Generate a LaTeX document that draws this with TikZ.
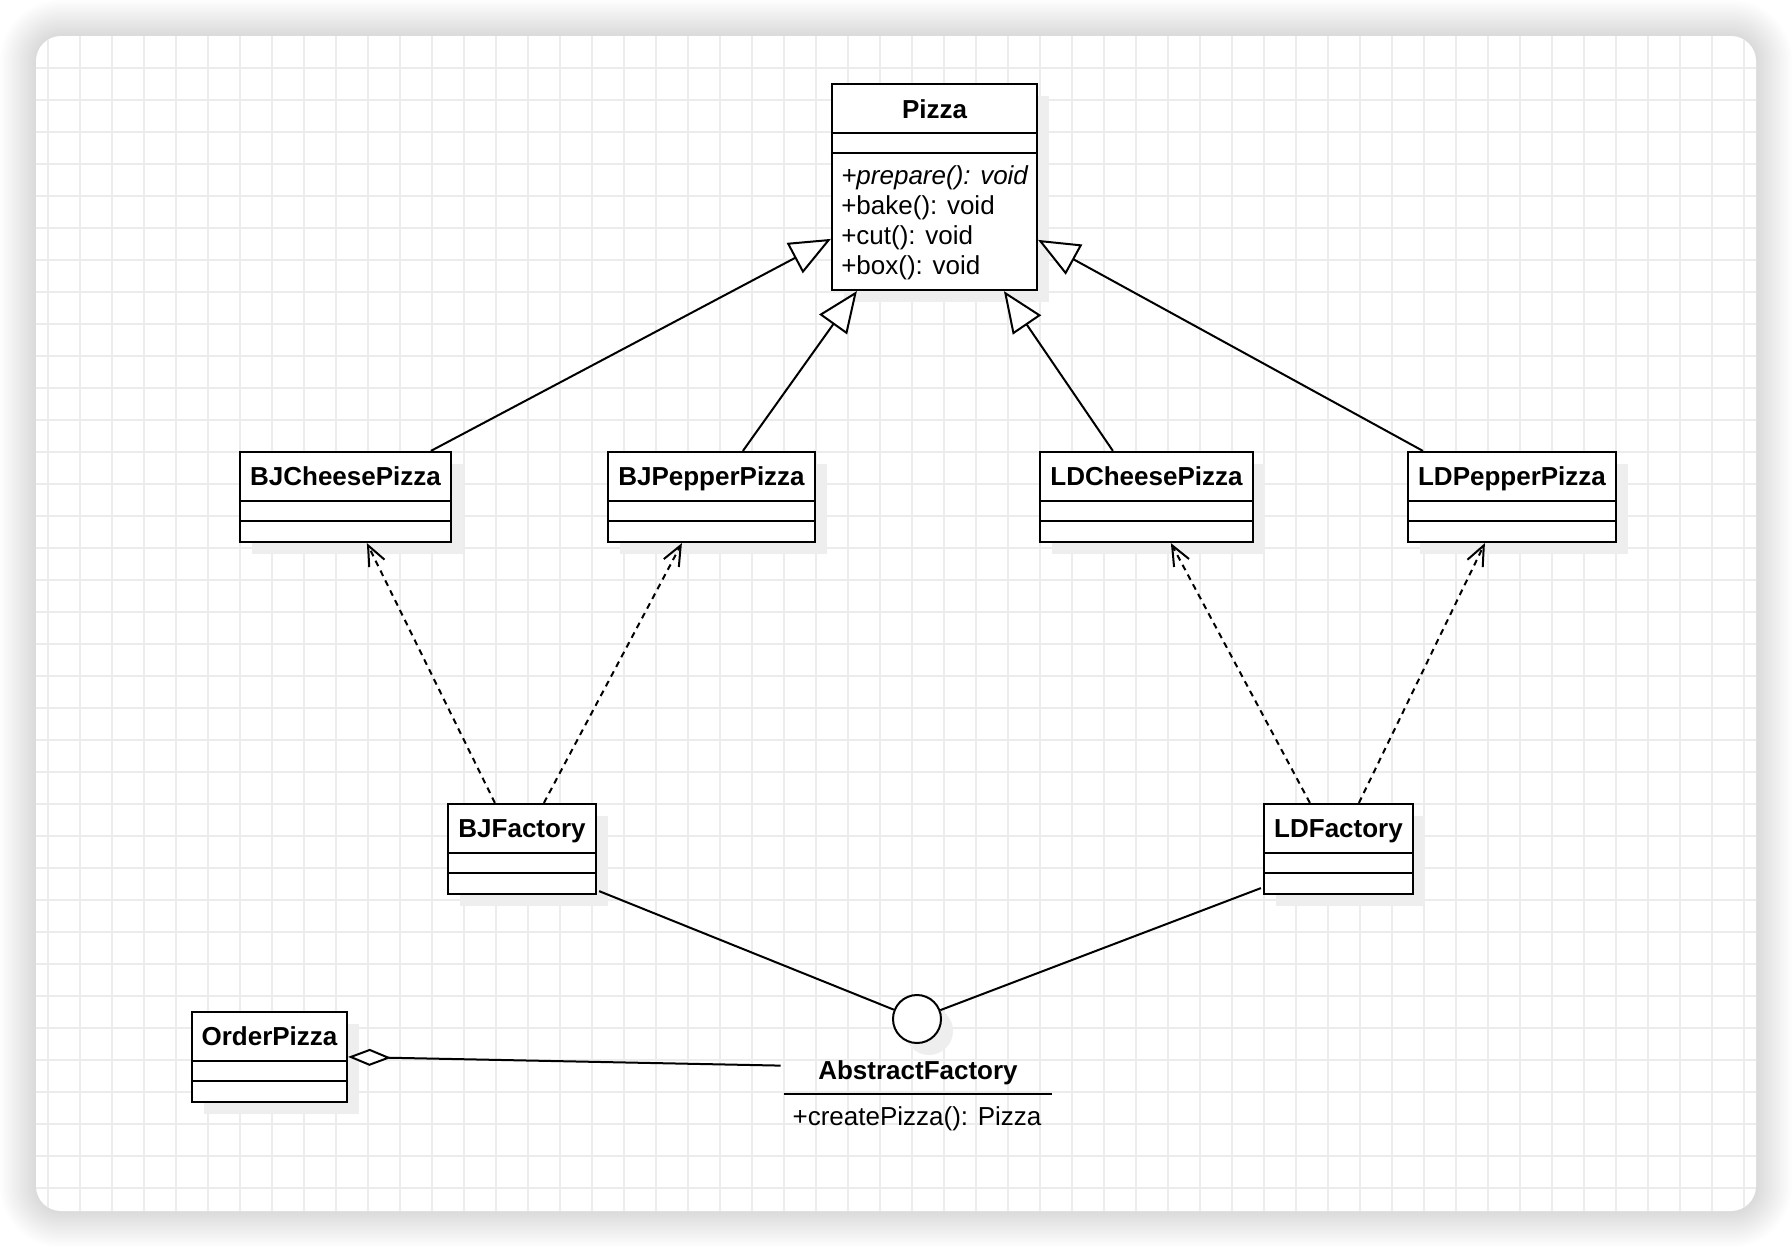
\documentclass[tikz,border=0pt]{standalone}
\usepackage{fontspec}
\setmainfont{Liberation Sans}
\usetikzlibrary{arrows.meta,shadows,fit,calc}
\definecolor{gridc}{RGB}{236,236,236}
\definecolor{shadc}{RGB}{238,238,238}
\newcommand{\umlcls}[6]{%
  \node[clsbox, fit={(#2,#3) (#4,#5)}] (#1) {};
  \draw[divider] ($(#1.north west)+(0,50)$) -- ($(#1.north east)+(0,50)$);
  \draw[divider] ($(#1.north west)+(0,70)$) -- ($(#1.north east)+(0,70)$);
  \node[clstitle] (#1-t) at ($(#1.north)+(0,25)$) {#6};
}
\begin{document}
\begin{tikzpicture}[x=0.5pt,y=-0.5pt,
  font=\fontsize{13pt}{15pt}\selectfont,
  clsbox/.style={draw=black,line width=1.1pt,fill=white,inner sep=0pt,
    drop shadow={shadow xshift=6pt,shadow yshift=-6pt,fill=shadc,opacity=1}},
  divider/.style={line width=1.1pt},
  clstitle/.style={font=\fontsize{13pt}{15pt}\selectfont\bfseries,inner sep=0pt,
    text height=9.6pt,text depth=0.3pt},
  meth/.style={inner sep=0pt,anchor=west,text height=9.6pt,text depth=2.8pt},
  gen/.style={line width=1pt,-{Triangle[length=20.5pt,width=17pt,fill=white]}},
  dep/.style={line width=1pt,dash pattern=on 3pt off 2.5pt,-{Straight Barb[length=10pt,width=8.5pt]}},
  assoc/.style={line width=1pt},
  agg/.style={line width=1pt,{Diamond[length=21.5pt,width=8.5pt,fill=white]}-},
  gridline/.style={draw=gridc,line width=0.8pt},
]
\useasboundingbox (0,0) rectangle (1792,1248);
% card shadow
\foreach \i in {1,...,18}{
  \pgfmathsetmacro\rr{12.5+\i}
  \fill[black,opacity=0.009,rounded corners=\rr pt] (36-2*\i,36-2*\i) rectangle (1756+2*\i,1211+2*\i);
}
\fill[white,rounded corners=12.5pt] (36,36) rectangle (1756,1211);
\begin{scope}
  \clip[rounded corners=12.5pt] (36,36) rectangle (1756,1211);
  \foreach \k in {0,...,53}{ \draw[gridline] (48+32*\k,36) -- (48+32*\k,1211); }
  \foreach \k in {0,...,35}{ \draw[gridline] (36,68+32*\k) -- (1756,68+32*\k); }
\end{scope}

% Pizza
\node[clsbox, fit={(832,84) (1037,290)}] (pz) {};
\draw[divider] ($(pz.north west)+(0,50)$) -- ($(pz.north east)+(0,50)$);
\draw[divider] ($(pz.north west)+(0,70)$) -- ($(pz.north east)+(0,70)$);
\node[clstitle] (pz-t) at ($(pz.north)+(0,26)$) {Pizza};
\node[meth] (pm1) at ($(pz.north west)+(10,94.5)$) {\itshape +prepare(): void};
\node[meth] (pm2) at ($(pz.north west)+(10,124.5)$) {+bake(): void};
\node[meth] (pm3) at ($(pz.north west)+(10,154.5)$) {+cut(): void};
\node[meth] (pm4) at ($(pz.north west)+(10,184.5)$) {+box(): void};

\umlcls{bjc}{240}{452}{451}{542}{BJCheesePizza}
\umlcls{bjp}{608}{452}{815}{542}{BJPepperPizza}
\umlcls{ldc}{1040}{452}{1253}{542}{LDCheesePizza}
\umlcls{ldp}{1408}{452}{1616}{542}{LDPepperPizza}
\umlcls{bjf}{448}{804}{596}{894}{BJFactory}
\umlcls{ldf}{1264}{804}{1413}{894}{LDFactory}
\umlcls{ord}{192}{1012}{347}{1102}{OrderPizza}

% AbstractFactory interface (lollipop)
\node[circle,draw=black,line width=1pt,fill=white,minimum size=24pt,inner sep=0pt,
  drop shadow={shadow xshift=6pt,shadow yshift=-6pt,fill=shadc,opacity=1}] (af) at (917,1019) {};
\node[inner sep=0pt,fit={(784,1045) (1052,1140)}] (afbox) {};
\node[clstitle] (af-t) at ($(afbox.north)+(0,26)$) {AbstractFactory};
\draw[divider] ($(afbox.north west)+(0,49)$) -- ($(afbox.north east)+(0,49)$);
\node[meth,anchor=center] (af-m) at ($(afbox.north)+(-1,74)$) {+createPizza(): Pizza};

% generalizations
\draw[gen] ($(bjc.north west)+(192,0)$) -- ($(pz.north west)+(0,156)$);
\draw[gen] ($(bjp.north west)+(136,0)$) -- ($(pz.south west)+(26,0)$);
\draw[gen] ($(ldc.north west)+(74,0)$) -- ($(pz.south west)+(173,0)$);
\draw[gen] ($(ldp.north west)+(16,0)$) -- ($(pz.north east)+(0,157)$);

% dependencies
\draw[dep] ($(bjf.north west)+(48,0)$) -- ($(bjc.south west)+(128,0)$);
\draw[dep] ($(bjf.north west)+(97,0)$) -- ($(bjp.south west)+(75,0)$);
\draw[dep] ($(ldf.north west)+(47,0)$) -- ($(ldc.south west)+(132,0)$);
\draw[dep] ($(ldf.north west)+(96,0)$) -- ($(ldp.south west)+(78,0)$);

% realizations (lollipop)
\draw[assoc] ($(bjf.south east)+(2,-4)$) -- (af);
\draw[assoc] ($(ldf.south west)+(-2,-7)$) -- (af);

% aggregation
\draw[agg] ($(ord.north east)+(0,46)$) -- ($(afbox.north west)+(-3,21)$);
\end{tikzpicture}
\end{document}
